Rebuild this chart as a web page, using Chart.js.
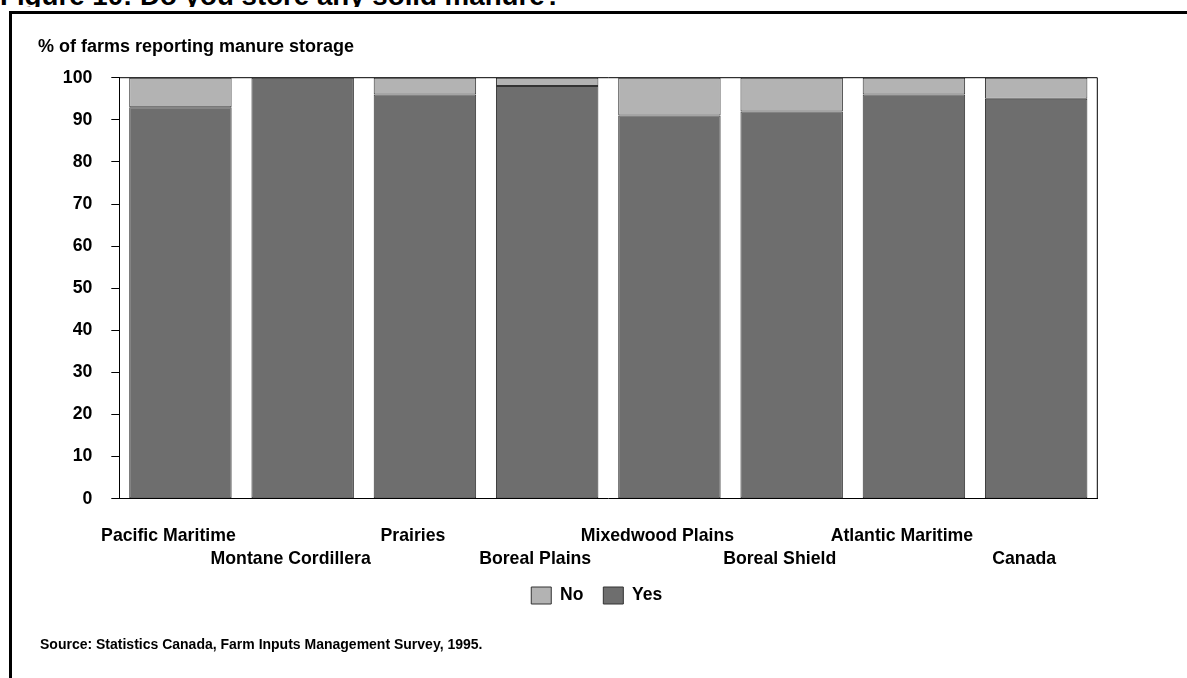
<!DOCTYPE html>
<html>
<head>
<meta charset="utf-8">
<script src="https://cdn.jsdelivr.net/npm/chart.js@4.4.1/dist/chart.umd.min.js"></script>
<style>
  html, body { margin: 0; padding: 0; background: #fff; }
  body { width: 1187px; height: 678px; position: relative; overflow: hidden; font-family: "Liberation Sans", Arial, sans-serif; }
  #frame { position: absolute; left: 9px; top: 11px; width: 1180px; height: 700px; border-left: 3px solid #000; border-top: 3px solid #000; box-sizing: border-box; }
  #titleClip { position: absolute; left: 0; top: 0; width: 1187px; height: 7px; overflow: hidden; }
  #title { position: absolute; left: 0; top: -18.2px; font-size: 27.7px; line-height: 27.7px; font-weight: bold; white-space: nowrap; color: #000; }
  #ytitle { position: absolute; left: 38px; top: 36.6px; font-size: 18px; line-height: 18px; font-weight: bold; white-space: nowrap; color: #000; }
  #source { position: absolute; left: 40px; top: 637px; font-size: 14px; line-height: 14px; font-weight: bold; white-space: nowrap; color: #000; }
  #wrap { position: absolute; left: 0; top: 0; width: 1187px; height: 678px; }
</style>
</head>
<body>
<div id="frame"></div>
<div id="titleClip"><div id="title">Figure 10: Do you store any solid manure?</div></div>
<div id="wrap"><canvas id="c" width="1187" height="678"></canvas></div>
<div id="ytitle">% of farms reporting manure storage</div>
<div id="source">Source: Statistics Canada, Farm Inputs Management Survey, 1995.</div>
<script>
const categories = ['Pacific Maritime', 'Montane Cordillera', 'Prairies', 'Boreal Plains', 'Mixedwood Plains', 'Boreal Shield', 'Atlantic Maritime', 'Canada'];
const yesValues = [93, 100, 96, 98, 91, 92, 96, 95];
const noValues = [7, 0, 4, 2, 9, 8, 4, 5];
const seriesNames = ['Yes', 'No'];
const yMin = 0;
const yMax = 100;
const yStep = 10;

const FONT = '"Liberation Sans", Arial, sans-serif';
const PAD_LEFT = 60;
const PAD_RIGHT = 53.5;
const AREA_LEFT = 119.3;
const AREA_RIGHT = 1097.3;
const CANVAS_W = 1187;

const boxPlugin = {
  id: 'areaBox',
  afterDatasetsDraw(chart) {
    const a = chart.chartArea;
    const ctx = chart.ctx;
    ctx.save();
    ctx.strokeStyle = '#000';
    ctx.lineWidth = 1;
    ctx.beginPath();
    ctx.moveTo(a.left, a.top);
    ctx.lineTo(a.right, a.top);
    ctx.lineTo(a.right, a.bottom);
    ctx.stroke();
    ctx.restore();
  }
};

new Chart(document.getElementById('c'), {
  type: 'bar',
  data: {
    labels: categories,
    datasets: [
      { label: seriesNames[0], data: yesValues, yAxisID: 'y', backgroundColor: '#6e6e6e', borderColor: '#333333', borderWidth: 1, borderSkipped: false },
      { label: seriesNames[1], data: noValues, yAxisID: 'y', backgroundColor: '#b3b3b3', borderColor: '#333333', borderWidth: 1, borderSkipped: false }
    ]
  },
  options: {
    responsive: false,
    devicePixelRatio: 1,
    animation: false,
    events: [],
    layout: { padding: { left: PAD_LEFT, right: PAD_RIGHT, top: 77.7, bottom: 63.75 } },
    datasets: { bar: { categoryPercentage: 1, barPercentage: 0.838 } },
    scales: {
      x: {
        stacked: true,
        grid: { display: false },
        border: { display: true, color: '#000', width: 1 },
        ticks: {
          autoSkip: false, maxRotation: 0, minRotation: 0, padding: 18, labelOffset: -12,
          color: '#000',
          font: { family: FONT, size: 17.7, weight: 'bold', lineHeight: 1.3 },
          callback: (v, i) => (i % 2 === 0 ? [categories[i], ''] : ['', categories[i]])
        },
        afterFit: (s) => { s.height = 68.05; }
      },
      y: {
        stacked: true,
        position: 'left',
        min: yMin, max: yMax,
        grid: { drawOnChartArea: false, drawTicks: true, tickLength: 8, color: '#000', lineWidth: 1 },
        border: { display: true, color: '#000', width: 1 },
        ticks: {
          stepSize: yStep, padding: 19, color: '#000',
          font: { family: FONT, size: 17.7, weight: 'bold' }
        },
        afterFit: (s) => { s.width = AREA_LEFT - PAD_LEFT; }
      },
      y2: {
        position: 'right',
        display: true,
        min: yMin, max: yMax,
        grid: { display: false, drawTicks: false },
        border: { display: false },
        ticks: { display: false },
        afterFit: (s) => { s.width = CANVAS_W - PAD_RIGHT - AREA_RIGHT; }
      }
    },
    plugins: {
      legend: {
        position: 'bottom',
        reverse: true,
        labels: {
          boxWidth: 20, boxHeight: 17, padding: 20, color: '#000',
          font: { family: FONT, size: 17.5, weight: 'bold' }
        }
      },
      tooltip: { enabled: false },
      title: { display: false }
    }
  },
  plugins: [boxPlugin]
});
</script>
</body>
</html>
